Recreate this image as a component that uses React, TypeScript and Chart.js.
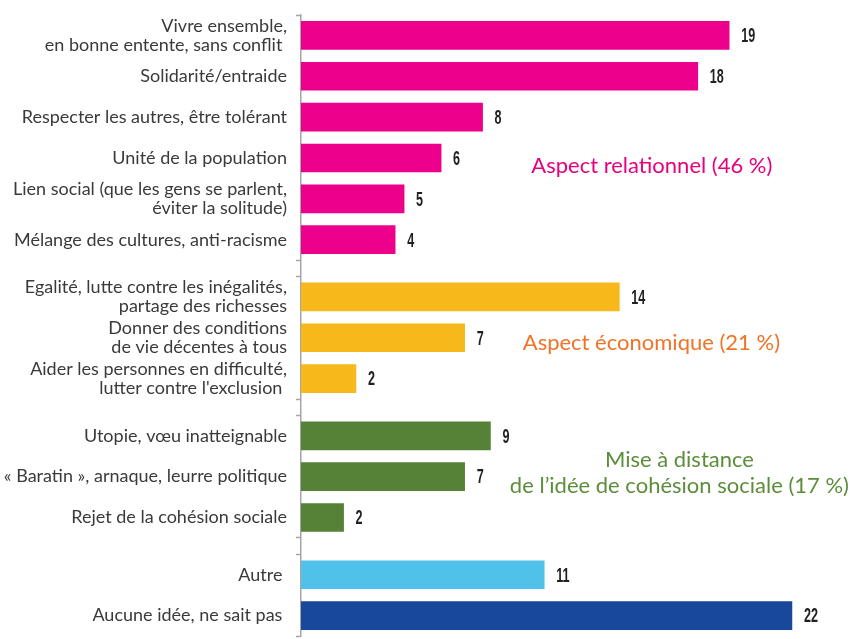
import React, { useEffect, useRef } from 'react';
import { Chart, registerables } from 'chart.js';

Chart.register(...registerables);

// ---- data ----
const categories: string[][] = [
  ['Vivre ensemble,', 'en bonne entente, sans conflit '],
  ['Solidarité/entraide'],
  ['Respecter les autres, être tolérant'],
  ['Unité de la population'],
  ['Lien social (que les gens se parlent,', 'éviter la solitude)'],
  ['Mélange des cultures, anti-racisme'],
  ['Egalité, lutte contre les inégalités,', 'partage des richesses'],
  ['Donner des conditions', 'de vie décentes à tous'],
  ['Aider les personnes en difficulté,', "lutter contre l'exclusion "],
  ['Utopie, vœu inatteignable'],
  ['« Baratin », arnaque, leurre politique'],
  ['Rejet de la cohésion sociale'],
  ['Autre '],
  ['Aucune idée, ne sait pas '],
];

// bar lengths (in %)
const values: number[] = [19.1, 17.7, 8.1, 6.25, 4.6, 4.2, 14.2, 7.3, 2.45, 8.45, 7.3, 1.9, 10.85, 21.9];
// printed value labels
const valueLabels: string[] = ['19', '18', '8', '6', '5', '4', '14', '7', '2', '9', '7', '2', '11', '22'];

// theme of each category
const categoryTheme: string[] = [
  'rel', 'rel', 'rel', 'rel', 'rel', 'rel',
  'eco', 'eco', 'eco',
  'dist', 'dist', 'dist',
  'autre', 'nsp',
];
// block (visual group separated by a small gap) of each category
const categoryBlock: number[] = [0, 0, 0, 0, 0, 0, 1, 1, 1, 2, 2, 2, 3, 3];

const themeTitles: { theme: string; lines: string[] }[] = [
  { theme: 'rel', lines: ['Aspect relationnel (46 %)'] },
  { theme: 'eco', lines: ['Aspect économique (21 %)'] },
  { theme: 'dist', lines: ['Mise à distance', 'de l’idée de cohésion sociale (17 %)'] },
];

// ---- styles ----
const themeBarColors: Record<string, string> = {
  rel: '#EC008C',
  eco: '#F7B81B',
  dist: '#558236',
  autre: '#50C2EA',
  nsp: '#17489A',
};
const themeTitleColors: Record<string, string> = {
  rel: '#E6007E',
  eco: '#F07327',
  dist: '#5B8D3B',
};
// anchor (x value, y value of first baseline) of each title
const titleAnchors: Record<string, { x: number; y: number }> = {
  rel: { x: 15.65, y: 3.37 },
  eco: { x: 15.63, y: 7.7 },
  dist: { x: 16.88, y: 10.57 },
};
const BLOCK_GAP = 0.4;
const AXIS_COLOR = '#A6A6A6';

const positions = categories.map((_, i) => i + categoryBlock[i] * BLOCK_GAP);
const blockBounds: number[] = [];
{
  const blocks = Array.from(new Set(categoryBlock));
  blocks.forEach((b) => {
    const idx = categoryBlock.map((v, i) => (v === b ? i : -1)).filter((i) => i >= 0);
    blockBounds.push(positions[idx[0]] - 0.5, positions[idx[idx.length - 1]] + 0.5);
  });
}
const tickValues = [...blockBounds, ...positions].sort((a, b) => a - b);
const near = (a: number, b: number) => Math.abs(a - b) < 1e-6;
const isBound = (v: number) => blockBounds.some((b) => near(b, v));

const overlayPlugin = {
  id: 'overlay',
  afterDatasetsDraw(chart: any) {
    const ctx = chart.ctx;
    const meta = chart.getDatasetMeta(0);
    meta.data.forEach((bar: any, i: number) => {
      ctx.save();
      ctx.font = 'bold 21px "Liberation Sans", Arial, sans-serif';
      ctx.fillStyle = '#231F20';
      ctx.textBaseline = 'middle';
      ctx.textAlign = 'left';
      ctx.translate(bar.x + 12, bar.y + 1);
      ctx.scale(0.6, 1);
      ctx.fillText(valueLabels[i], 0, 0);
      ctx.restore();
    });
    const xs = chart.scales.x;
    const ys = chart.scales.y;
    themeTitles.forEach((t) => {
      const a = titleAnchors[t.theme];
      const cx = xs.getPixelForValue(a.x);
      const cy = ys.getPixelForValue(a.y);
      ctx.save();
      ctx.font = '22px Lato';
      ctx.fillStyle = themeTitleColors[t.theme];
      ctx.textAlign = 'center';
      ctx.textBaseline = 'alphabetic';
      t.lines.forEach((line, li) => ctx.fillText(line, cx, cy + li * 26));
      ctx.restore();
    });
  },
};

export default function App() {
  const ref = useRef<HTMLCanvasElement | null>(null);
  useEffect(() => {
    if (!ref.current) return;
    const chart = new Chart(ref.current, {
      type: 'bar',
      data: {
        datasets: [
          {
            data: values.map((v, i) => ({ x: v, y: positions[i] })),
            backgroundColor: categoryTheme.map((t) => themeBarColors[t]),
            borderWidth: 0,
            barThickness: 28,
          } as any,
        ],
      },
      options: {
        indexAxis: 'y',
        animation: false,
        responsive: true,
        maintainAspectRatio: false,
        layout: { padding: { top: 15, bottom: 3, left: 0, right: 22 } },
        plugins: { legend: { display: false }, tooltip: { enabled: false } },
        scales: {
          x: { type: 'linear', min: 0, max: 24, display: false, offset: false },
          y: {
            type: 'linear',
            reverse: true,
            offset: false,
            bounds: 'data',
            min: -0.5,
            max: positions[positions.length - 1] + 0.5,
            afterBuildTicks: (scale: any) => {
              scale.ticks = tickValues.map((v) => ({ value: v }));
            },
            afterFit: (scale: any) => {
              scale.width = 301;
              scale.paddingTop = 0;
              scale.paddingBottom = 0;
            },
            ticks: {
              autoSkip: false,
              padding: 9,
              color: '#3A3A3A',
              font: { family: 'Lato', size: 18, lineHeight: 1.03 },
              callback: (value: any) => {
                const i = positions.findIndex((p) => near(p, Number(value)));
                return i >= 0 ? categories[i] : '';
              },
            },
            grid: {
              offset: false,
              drawOnChartArea: false,
              tickLength: 5,
              tickWidth: 1.5,
              tickColor: (c: any) => (c.tick && isBound(c.tick.value) ? AXIS_COLOR : 'rgba(0,0,0,0)'),
            },
            border: { color: AXIS_COLOR, width: 1.5 },
          } as any,
        },
      },
      plugins: [overlayPlugin],
    });
    return () => chart.destroy();
  }, []);
  return (
    <div style={{ position: 'fixed', left: 0, top: 0, width: 861, height: 639, background: '#fff' }}>
      <canvas ref={ref} />
    </div>
  );
}
